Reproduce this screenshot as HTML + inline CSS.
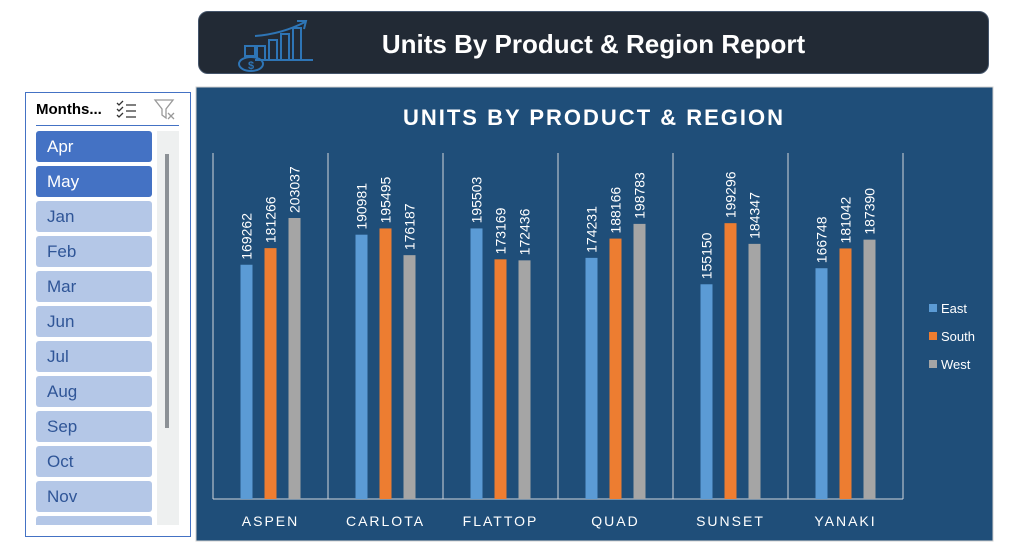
<!DOCTYPE html>
<html><head><meta charset="utf-8">
<style>
body{margin:0;width:1012px;height:557px;background:#fff;position:relative;overflow:hidden;font-family:"Liberation Sans",sans-serif}
.hdr{position:absolute;left:198px;top:11px;width:789px;height:61px;background:#222a35;border:1px solid #44546a;border-radius:10px}
.hdr .t{position:absolute;left:0;right:0;top:17px;text-align:center;color:#fff;font-weight:bold;font-size:26px}
.slicer{position:absolute;left:25px;top:92px;width:164px;height:443px;border:1px solid #4472c4;background:#fff}
.item{position:absolute;left:10px;width:116px;height:31px;border-radius:3px;background:#b4c7e7;color:#2f5597;font-size:17px;line-height:31px;padding-left:11px;box-sizing:border-box}
.item.sel{background:#4472c4;color:#fff}
</style></head><body>
<div class="hdr">
<svg style="position:absolute;left:38px;top:4px" width="80" height="56">
<g fill="none" stroke="#2e75b6" stroke-width="2">
<path d="M18 44 L76 44"/><rect x="20" y="30" width="8" height="14"/><rect x="32" y="24" width="8" height="20"/><rect x="44" y="18" width="8" height="26"/><rect x="56" y="12" width="8" height="32"/>
<path d="M18 20 Q45 18 68 6"/><path d="M60 5 L69 5 L67 13"/>
<ellipse cx="14" cy="48" rx="12" ry="7"/><rect x="8" y="30" width="10" height="10"/></g>
<text x="14" y="53" font-size="11" fill="#2e75b6" text-anchor="middle" font-weight="bold">$</text></svg>
<div class="t">Units By Product &amp; Region Report</div>
</div>
<div class="slicer">
<div style="position:absolute;left:10px;top:8px;font-weight:bold;font-size:15px">Months...</div>
<svg style="position:absolute;left:89px;top:6px" width="24" height="22"><g stroke="#333" fill="none" stroke-width="1.3"><path d="M2 4l2 2 4-4M2 10l2 2 4-4M2 16l2 2 4-4"/><path d="M11 6h10M11 12h10M11 18h10"/></g></svg>
<svg style="position:absolute;left:127px;top:5px" width="24" height="24"><path d="M2 2h18l-7 9v9l-4-3v-6z" fill="none" stroke="#999" stroke-width="1.3"/><path d="M15 15l6 6M21 15l-6 6" stroke="#999" stroke-width="1.3"/></svg>
<div style="position:absolute;left:10px;top:32px;width:143px;height:1px;background:#4472c4"></div>
<div style="position:absolute;left:131px;top:38px;width:22px;height:394px;background:#eef0f0"><div style="position:absolute;left:8px;top:23px;width:4px;height:274px;background:#8c9196"></div></div>
<div style="position:absolute;left:0;top:0;width:164px;height:432px;overflow:hidden">
<div class="item sel" style="top:38px">Apr</div>
<div class="item sel" style="top:73px">May</div>
<div class="item" style="top:108px">Jan</div>
<div class="item" style="top:143px">Feb</div>
<div class="item" style="top:178px">Mar</div>
<div class="item" style="top:213px">Jun</div>
<div class="item" style="top:248px">Jul</div>
<div class="item" style="top:283px">Aug</div>
<div class="item" style="top:318px">Sep</div>
<div class="item" style="top:353px">Oct</div>
<div class="item" style="top:388px">Nov</div>
<div class="item" style="top:423px">Dec</div>
</div></div>
<svg id="chart" style="position:absolute;left:0;top:0" width="1012" height="557"></svg>
<script>
const categories=["ASPEN","CARLOTA","FLATTOP","QUAD","SUNSET","YANAKI"];
const seriesNames=["East","South","West"];
const east=[169262,190981,195503,174231,155150,166748];
const south=[181266,195495,173169,188166,199296,181042];
const west=[203037,176187,172436,198783,184347,187390];
const colors=["#5b9bd5","#ed7d31","#a5a5a5"];
const NS="http://www.w3.org/2000/svg";
const svg=document.getElementById('chart');
function mk(t,a,p){const e=document.createElementNS(NS,t);for(const k in a)e.setAttribute(k,a[k]);(p||svg).appendChild(e);return e;}
const x0=213,cw=115,yBase=499,yTop=153,yMax=250000;
const y=v=>yBase-(v/yMax)*(yBase-yTop);
const xc=i=>x0+cw*i+cw/2;
const bg=mk('rect',{x:196,y:87,width:797,height:454,fill:'#1f4e79',stroke:'#d0d0d0','stroke-width':1});


const tt=mk('text',{x:594,y:125,fill:'#fff','font-size':22,'font-weight':'bold','text-anchor':'middle','letter-spacing':'2'});
tt.textContent='UNITS BY PRODUCT & REGION';


for(let i=0;i<=categories.length;i++){
const l=mk('line',{x1:x0+cw*i,x2:x0+cw*i,y1:yTop,y2:yBase,stroke:'#d0d5dc','stroke-width':1});


}
const ax=mk('line',{x1:x0,x2:x0+cw*6,y1:yBase,y2:yBase,stroke:'#d0d5dc','stroke-width':1});


const series=[east,south,west];
categories.forEach((c,i)=>{
series.forEach((s,j)=>{
const bx=xc(i)-30+24*j;
const r=mk('rect',{x:bx,y:y(s[i]),width:12,height:yBase-y(s[i]),fill:colors[j]});


const tx=bx+11,ty=y(s[i])-5;
const t=mk('text',{x:tx,y:ty,fill:'#fff','font-size':14,transform:`rotate(-90 ${tx} ${ty})`});
t.textContent=s[i];


});
const lb=mk('text',{x:xc(i),y:526,fill:'#fff','font-size':14,'text-anchor':'middle','letter-spacing':'2'});
lb.textContent=c;


});
seriesNames.forEach((n,j)=>{
const ly=309+28*j;
const sq=mk('rect',{x:929,y:ly-5,width:8,height:8,fill:colors[j]});


const t=mk('text',{x:941,y:ly+4,fill:'#fff','font-size':13});
t.textContent=n;


});
</script>
</body></html>
